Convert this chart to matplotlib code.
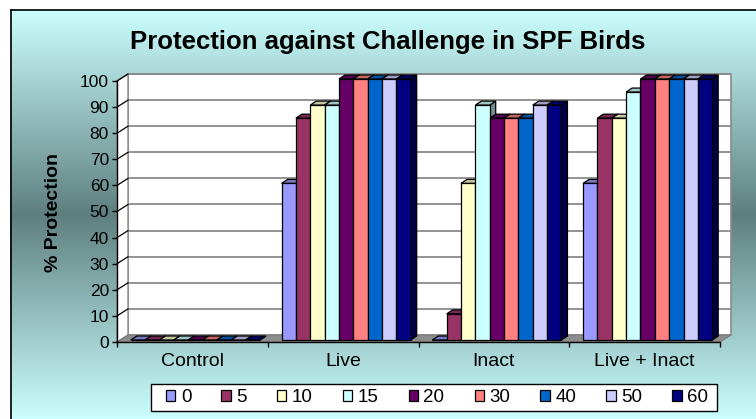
import numpy as np
import matplotlib
matplotlib.use('Agg')
import matplotlib.pyplot as plt
from matplotlib import transforms
from matplotlib.patches import Polygon, Rectangle
from matplotlib.colors import to_rgb

plt.rcParams['font.family'] = ['Liberation Sans', 'DejaVu Sans']

# ---- data ----
categories = ['Control', 'Live', 'Inact', 'Live + Inact']
series = ['0', '5', '10', '15', '20', '30', '40', '50', '60']
control = [0, 0, 0, 0, 0, 0, 0, 0, 0]
live = [60, 85, 90, 90, 100, 100, 100, 100, 100]
inact = [0, 10, 60, 90, 85, 85, 85, 90, 90]
live_inact = [60, 85, 85, 95, 100, 100, 100, 100, 100]
colors = ['#9999FF', '#993366', '#FFFFCC', '#CCFFFF', '#660066',
          '#FF8080', '#0066CC', '#CCCCFF', '#000080']
yticks = list(range(0, 101, 10))
title = 'Protection against Challenge in SPF Birds'
ylabel = '% Protection'

table = np.array([control, live, inact, live_inact], dtype=float)  # [cat, series]

W, H = 756, 419
fig = plt.figure(figsize=(W / 100, H / 100), dpi=100)

# ---- background ----
bg = fig.add_axes([0, 0, 1, 1])
bg.set_xlim(0, W)
bg.set_ylim(H, 0)
bg.axis('off')
light = np.array(to_rgb('#CCFFFF'))
dark = np.array(to_rgb('#5F7F7F'))
ys = np.linspace(10, H + 5, 500)
t = np.clip(1 - np.abs(ys - 215) / 205.0, 0, 1)
img = light[None, :] * (1 - t[:, None]) + dark[None, :] * t[:, None]
bg.imshow(img[:, None, :], extent=(10, W + 5, H + 5, 10), aspect='auto',
          interpolation='bilinear', zorder=0)
bg.plot([10.5, 10.5], [10.5, H + 5], color='black', lw=1.2, zorder=1)
bg.plot([10.5, W + 5], [10.5, 10.5], color='black', lw=1.2, zorder=1)
bg.set_xlim(0, W)
bg.set_ylim(H, 0)
# legend box
bg.add_patch(Rectangle((151, 384), 566, 27, facecolor='white',
                       edgecolor='black', lw=1.0, zorder=2))

# ---- main axes (front plane) ----
L, R, T, B = 117, 720, 81, 342
ax = fig.add_axes([L / W, 1 - B / H, (R - L) / W, (B - T) / H])
ax.set_xlim(-0.5, 3.5)
ax.set_ylim(0, 100)
ax.patch.set_visible(False)
sx = 4.0 / (R - L)
sy = 100.0 / (B - T)

# wall depth (px)
WDX, WDY = 11, 7
wdx, wdy = WDX * sx, WDY * sy

grid_c = '#8a8a8a'
# back wall
ax.add_patch(Polygon([(-0.5 + wdx, wdy), (3.5 + wdx, wdy), (3.5 + wdx, 100 + wdy),
                      (-0.5 + wdx, 100 + wdy)], closed=True, facecolor='white',
                     edgecolor=grid_c, lw=1.2, clip_on=False, zorder=0.5))
# side wall
ax.add_patch(Polygon([(-0.5, 0), (-0.5 + wdx, wdy), (-0.5 + wdx, 100 + wdy), (-0.5, 100)],
                     closed=True, facecolor='white', edgecolor=grid_c, lw=1.0,
                     clip_on=False, zorder=0.5))
for v in yticks[1:]:
    ax.plot([-0.5 + wdx, 3.5 + wdx], [v + wdy, v + wdy], color=grid_c, lw=1.3,
            clip_on=False, zorder=0.6, solid_capstyle='butt')
    ax.plot([-0.5, -0.5 + wdx], [v, v + wdy], color='black', lw=0.9,
            clip_on=False, zorder=0.6)
# floor
ax.add_patch(Polygon([(-0.5, 0), (3.5, 0), (3.5 + wdx, wdy), (-0.5 + wdx, wdy)],
                     closed=True, facecolor='#8c8c8c', edgecolor='#7a7a7a', lw=0.8,
                     clip_on=False, zorder=0.7))

# ---- bars ----
front = transforms.offset_copy(ax.transData, fig, x=3, y=2, units='dots')
BDX, BDY = 6, 4
bdx, bdy = BDX * sx, BDY * sy
bw = 14.35 * sx
G = bw * len(series)
ncat = len(categories)
xs = np.arange(ncat)

def shade(c, f):
    return tuple(np.array(to_rgb(c)) * f)

handles = []
for j, name in enumerate(series):
    x0s = xs - G / 2 + j * bw
    vals = table[:, j]
    for x0, v in zip(x0s, vals):
        x1 = x0 + bw
        ax.add_patch(Polygon([(x1, 0), (x1 + bdx, bdy), (x1 + bdx, v + bdy), (x1, v)],
                             closed=True, facecolor=shade(colors[j], 0.55),
                             edgecolor='black', lw=0.9, transform=front,
                             clip_on=False, zorder=2))
        ax.add_patch(Polygon([(x0, v), (x1, v), (x1 + bdx, v + bdy), (x0 + bdx, v + bdy)],
                             closed=True, facecolor=shade(colors[j], 0.78),
                             edgecolor='black', lw=0.9, transform=front,
                             clip_on=False, zorder=2))
    bars = ax.bar(x0s, vals, width=bw, align='edge', color=colors[j],
                  edgecolor='black', linewidth=0.9, transform=front,
                  clip_on=False, zorder=3, label=name)
    handles.append(bars)

ax.set_xlim(-0.5, 3.5)
ax.set_ylim(0, 100)

# ---- axes styling ----
for s in ['top', 'right']:
    ax.spines[s].set_visible(False)
for s in ['left', 'bottom']:
    ax.spines[s].set_color('black')
    ax.spines[s].set_linewidth(1.0)
    ax.spines[s].set_zorder(4)
ax.set_yticks(yticks)
ax.set_yticklabels([str(v) for v in yticks])
ax.tick_params(axis='y', direction='out', length=3.8, width=1.0, pad=2,
               labelsize=12.5, colors='black')
ax.set_xticks(xs)
ax.set_xticklabels(categories)
ax.set_xticks(np.arange(-0.5, 3.6, 1.0), minor=True)
ax.tick_params(axis='x', which='major', length=0, pad=8, labelsize=14)
ax.tick_params(axis='x', which='minor', direction='out', length=3.8, width=1.0)

# ---- texts ----
fig.text(388 / W, 1 - 49 / H, title, ha='center', va='baseline',
         fontsize=18.5, fontweight='bold')
fig.text(53.5 / W, 1 - 213 / H, ylabel, rotation=90, ha='center', va='center',
         fontsize=14, fontweight='bold')

# ---- legend ----
fig.legend(handles, series, loc='center', bbox_to_anchor=(437 / W, 1 - 397.5 / H),
           ncol=len(series), frameon=False, fontsize=13.5, handlelength=0.5,
           handleheight=0.5, handletextpad=0.3, columnspacing=1.6,
           borderpad=0.2)

fig.savefig('out.png', dpi=100)
